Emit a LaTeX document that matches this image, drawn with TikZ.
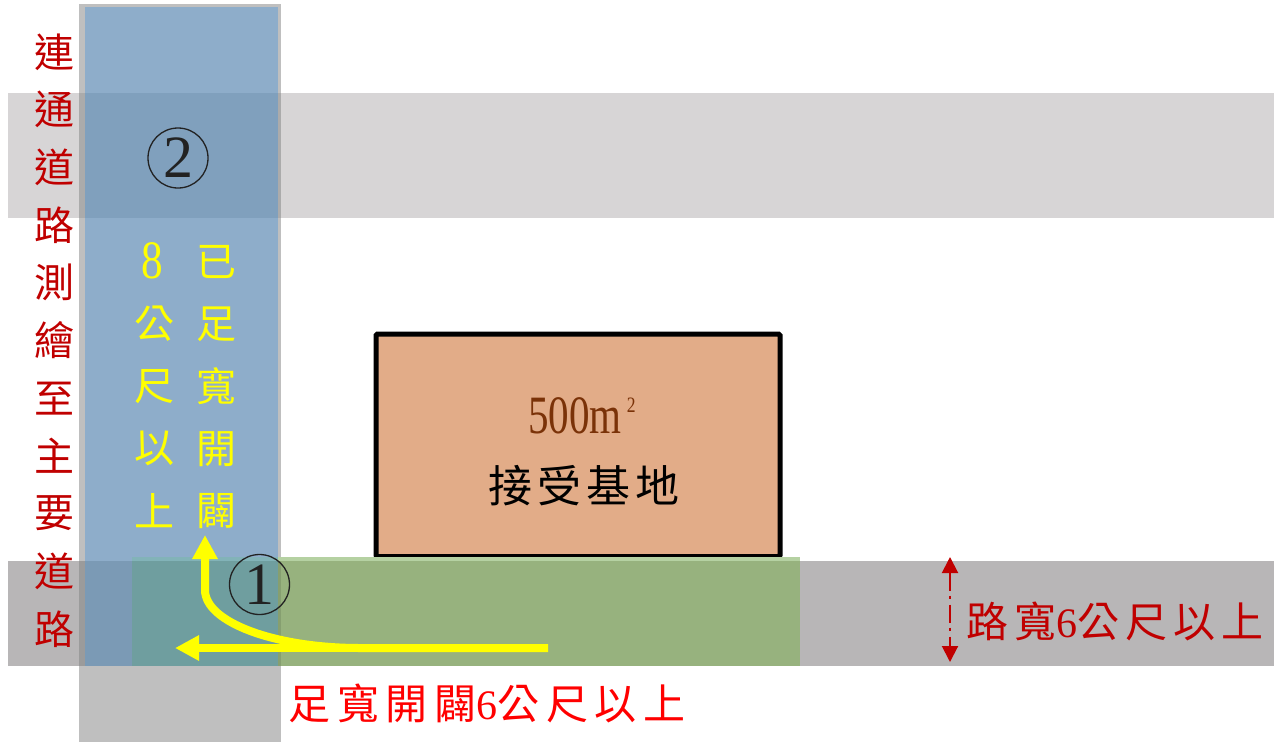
\documentclass[tikz,border=0pt]{standalone}
\usepackage{fontspec}
\setmainfont{Liberation Serif}
\newfontfamily\cjk{Noto Sans CJK TC}
\newfontfamily\cjkls[LetterSpace=14]{Noto Sans CJK TC}
\newfontfamily\serifls[LetterSpace=14]{Liberation Serif}
\newfontfamily\cjklsb[LetterSpace=16]{Noto Sans CJK TC}
\newfontfamily\seriflsb[LetterSpace=16]{Liberation Serif}
\newfontfamily\cjkbox[LetterSpace=11]{Noto Sans CJK TC}
\usetikzlibrary{arrows.meta}
\definecolor{stripgray}{HTML}{BFBFBF}
\definecolor{roadblue}{HTML}{8EADCA}
\definecolor{topband}{HTML}{D7D5D6}
\definecolor{topstrip}{HTML}{ABABAB}
\definecolor{topblue}{HTML}{80A0BD}
\definecolor{botband}{HTML}{B8B6B7}
\definecolor{botstrip}{HTML}{9B9B9B}
\definecolor{botblue}{HTML}{7B9AB5}
\definecolor{greenlight}{HTML}{B5D1A2}
\definecolor{greenband}{HTML}{97B27E}
\definecolor{greenbluelight}{HTML}{82B3B8}
\definecolor{greenblue}{HTML}{6F9E9F}
\definecolor{greenstrip}{HTML}{869F70}
\definecolor{sitefill}{HTML}{E2AC88}
\definecolor{sitetext}{HTML}{7A3208}
\definecolor{darkred}{HTML}{C00000}
\definecolor{brightred}{HTML}{FF0000}
\definecolor{arrowyellow}{HTML}{FFFF00}
\definecolor{circline}{HTML}{222222}
\begin{document}
\begin{tikzpicture}[x=1pt,y=-1pt,
  circnum/.style={circle,draw=circline,line width=1.3pt,minimum size=60pt,inner sep=0pt,
    text=circline,font=\fontsize{60}{60}\selectfont},
  redcol/.style={inner sep=0pt,text=darkred,font=\cjk\fontsize{40}{40}\selectfont},
  yelcol/.style={inner sep=0pt,text=arrowyellow,font=\cjk\fontsize{40}{40}\selectfont},
  yarrow/.style={draw=arrowyellow,line width=8pt,line join=round,
    -{Triangle[length=24pt,width=24pt]}},
  dimarrow/.style={draw=darkred,line width=2pt,dash pattern=on 18pt off 5pt on 3pt off 6pt,
    {Triangle[length=16pt,width=16pt]}-{Triangle[length=16pt,width=16pt]}}]
\useasboundingbox (0,0) rectangle (1274,742);
% road areas
\fill[stripgray] (79,4) rectangle (281,742);
\fill[roadblue] (85,7) rectangle (278,666);
\fill[topband] (8,93) rectangle (1274,218);
\fill[topstrip] (79,93) rectangle (281,218);
\fill[topblue] (85,93) rectangle (278,218);
\fill[botband] (8,561) rectangle (1274,666);
\fill[botstrip] (79,561) rectangle (281,666);
\fill[botblue] (85,561) rectangle (278,666);
% site box
\draw[line width=5pt,fill=sitefill,rounded corners=1.5pt] (376,334) rectangle (780,556.5);
% green strip
\fill[greenlight] (278,557) rectangle (800,561);
\fill[greenbluelight] (132,557) rectangle (278,561);
\fill[greenband] (281,561) rectangle (800,666);
\fill[greenblue] (132,561) rectangle (278,666);
\fill[greenstrip] (278,561) rectangle (281,666);
% site labels
\node[inner sep=0pt,text=sitetext,font=\fontsize{54}{54}\selectfont] (area) at (582,416)
  {\scalebox{0.76}[1]{500m}\hspace{5pt}\raisebox{21pt}{\fontsize{22}{22}\selectfont\scalebox{0.8}[1]{2}}};
\node[inner sep=0pt,font=\cjkbox\fontsize{44}{44}\selectfont] (site) at (584,486) {接受基地};
% circled numbers
\node[circnum] (c1) at (259.5,584.5) {1};
\node[circnum] (c2) at (178,158) {2};
% left red vertical text
\foreach \c [count=\i] in {連,通,道,路,測,繪,至,主,要,道,路}
  \node[redcol] (l\i) at (54,{52+57.7*(\i-1)}) {\c};
% yellow vertical texts
\node[inner sep=0pt,text=arrowyellow,font=\fontsize{54}{54}\selectfont] (ya1) at (152,261) {\scalebox{0.8}[1]{8}};
\foreach \c [count=\i] in {公,尺,以,上}
  \node[yelcol] (ya\i x) at (154,{324+62.3*(\i-1)}) {\c};
\foreach \c [count=\i] in {已,足,寬,開,闢}
  \node[yelcol] (yb\i) at (216,{262+62.3*(\i-1)}) {\c};
% yellow arrows
\coordinate (ys) at (548,648);
\coordinate (yl) at (175,648);
\coordinate (ym) at (360,648);
\coordinate (yc) at (205,590);
\coordinate (yu) at (205,535);
\draw[yarrow] (ys) -- (yl);
\draw[yarrow] (ys) -- (ym) .. controls (274,648) and (205,622) .. (yc) -- (yu);
% road width dimension
\coordinate (dt) at (950,557);
\coordinate (db) at (950,662);
\draw[dimarrow] (dt) -- (db);
\node[inner sep=0pt,text=darkred,font=\fontsize{42}{42}\selectfont] (rw) at (1115,621)
  {\cjkls 路寬\serifls 6\cjkls 公尺以上};
% bottom red text
\node[inner sep=0pt,text=brightred,font=\fontsize{42}{42}\selectfont] (bw) at (487,703.5)
  {\cjklsb 足寬開闢\seriflsb 6\cjklsb 公尺以上};
\end{tikzpicture}
\end{document}
